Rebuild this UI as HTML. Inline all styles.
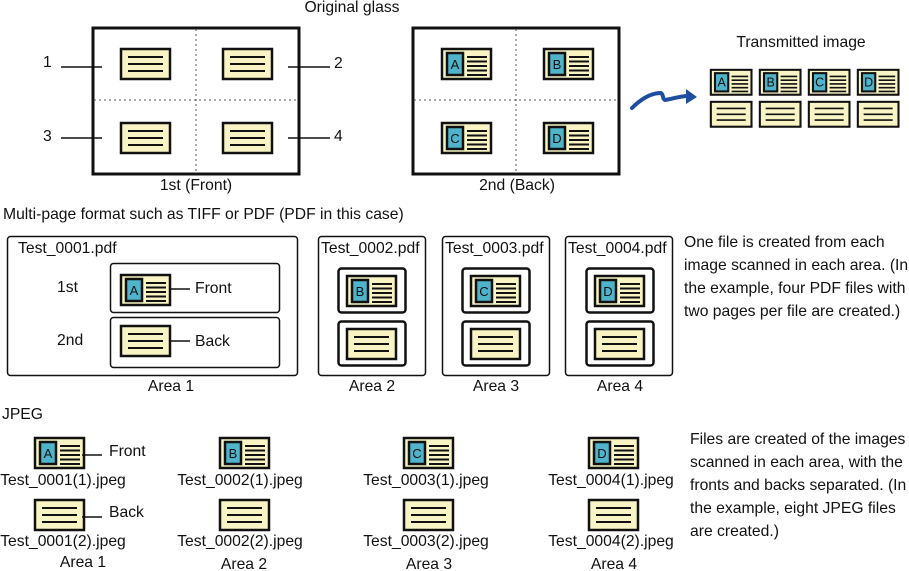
<!DOCTYPE html>
<html><head><meta charset="utf-8"><style>
html,body{margin:0;padding:0;background:#fff}
svg{display:block}
text{font-family:"Liberation Sans",sans-serif;font-size:15.7px;fill:#111}
text.l{font-size:13px}
</style></head><body>
<svg width="909" height="571" viewBox="0 0 909 571" xmlns="http://www.w3.org/2000/svg">
<defs>
<g id="fc">
<rect x="1" y="1" width="49" height="30" fill="#f8f4c4" stroke="#111" stroke-width="2.5"/>
<rect x="6" y="5" width="16" height="22" fill="#4fb3c9" stroke="#111" stroke-width="2.5"/>
<path d="M26 9H46M26 13.5H46M26 18H46M26 22.5H46M26 27H46" stroke="#111" stroke-width="2"/>
</g>
<g id="bc">
<rect x="1" y="1" width="49" height="30" fill="#f8f4c4" stroke="#111" stroke-width="2.5"/>
<path d="M8 9H43M8 16H43M8 23H43" stroke="#111" stroke-width="2"/>
</g>
</defs>

<!-- top -->
<text x="352" y="12" text-anchor="middle">Original glass</text>
<rect x="93" y="28" width="206" height="146" fill="none" stroke="#111" stroke-width="3"/>
<path d="M196 29V173M94 100H298" stroke="#555" stroke-width="1" stroke-dasharray="2,3"/>
<use href="#bc" x="120" y="48"/><use href="#bc" x="222" y="48"/>
<use href="#bc" x="120" y="122"/><use href="#bc" x="222" y="122"/>
<path d="M61 67H102M288 67H330M61 138H102M288 138H330" stroke="#111" stroke-width="1.5"/>
<text x="43" y="67">1</text><text x="334" y="68">2</text>
<text x="43" y="141">3</text><text x="334" y="141">4</text>
<text x="196" y="190" text-anchor="middle">1st (Front)</text>

<rect x="413" y="28" width="206" height="146" fill="none" stroke="#111" stroke-width="3"/>
<path d="M516 29V173M414 100H618" stroke="#555" stroke-width="1" stroke-dasharray="2,3"/>
<use href="#fc" x="441" y="48"/><text class="l" x="455" y="69" text-anchor="middle">A</text>
<use href="#fc" x="543" y="48"/><text class="l" x="557" y="69" text-anchor="middle">B</text>
<use href="#fc" x="441" y="122"/><text class="l" x="455" y="143" text-anchor="middle">C</text>
<use href="#fc" x="543" y="122"/><text class="l" x="557" y="143" text-anchor="middle">D</text>
<text x="517" y="190" text-anchor="middle">2nd (Back)</text>

<path d="M632 108C642 98 652 93 661 93C664 95 662 99 665 100C672 99 680 96 688 96" fill="none" stroke="#1f4ea0" stroke-width="4" stroke-linecap="round"/>
<path d="M686 89L697 97L686 104Z" fill="#1f4ea0"/>

<text x="801" y="47" text-anchor="middle">Transmitted image</text>
<g transform="translate(710,69) scale(0.83)"><use href="#fc"/><text x="14" y="21" text-anchor="middle" style="font-size:15px">A</text></g>
<g transform="translate(759,69) scale(0.83)"><use href="#fc"/><text x="14" y="21" text-anchor="middle" style="font-size:15px">B</text></g>
<g transform="translate(808,69) scale(0.83)"><use href="#fc"/><text x="14" y="21" text-anchor="middle" style="font-size:15px">C</text></g>
<g transform="translate(857,69) scale(0.83)"><use href="#fc"/><text x="14" y="21" text-anchor="middle" style="font-size:15px">D</text></g>
<g transform="translate(710,101) scale(0.83)"><use href="#bc"/></g>
<g transform="translate(759,101) scale(0.83)"><use href="#bc"/></g>
<g transform="translate(808,101) scale(0.83)"><use href="#bc"/></g>
<g transform="translate(857,101) scale(0.83)"><use href="#bc"/></g>

<!-- middle -->
<text x="3" y="219">Multi-page format such as TIFF or PDF (PDF in this case)</text>
<rect x="7.5" y="236.5" width="290" height="139" rx="3" fill="none" stroke="#111" stroke-width="1.5"/>
<text x="18" y="253">Test_0001.pdf</text>
<rect x="110.5" y="263.5" width="169" height="49" rx="3" fill="none" stroke="#111" stroke-width="1.5"/>
<rect x="110.5" y="317.5" width="169" height="50" rx="3" fill="none" stroke="#111" stroke-width="1.5"/>
<use href="#fc" x="120" y="274"/><text class="l" x="134" y="295" text-anchor="middle">A</text>
<use href="#bc" x="120" y="325"/>
<path d="M169 289H190M169 341H190" stroke="#111" stroke-width="1.5"/>
<text x="195" y="293">Front</text><text x="195" y="346">Back</text>
<text x="57" y="292">1st</text><text x="57" y="345">2nd</text>
<text x="171" y="391" text-anchor="middle">Area 1</text>

<rect x="318.5" y="236.5" width="107" height="139" rx="3" fill="none" stroke="#111" stroke-width="1.5"/>
<text x="321" y="253">Test_0002.pdf</text>
<rect x="338.5" y="268.5" width="67" height="44" rx="3" fill="none" stroke="#111" stroke-width="2.5"/>
<rect x="338.5" y="321.5" width="67" height="44" rx="3" fill="none" stroke="#111" stroke-width="2.5"/>
<use href="#fc" x="346" y="275"/><text class="l" x="360" y="296" text-anchor="middle">B</text>
<use href="#bc" x="346" y="328"/>
<text x="372" y="391" text-anchor="middle">Area 2</text>

<rect x="442.5" y="236.5" width="107" height="139" rx="3" fill="none" stroke="#111" stroke-width="1.5"/>
<text x="445" y="253">Test_0003.pdf</text>
<rect x="462.5" y="268.5" width="67" height="44" rx="3" fill="none" stroke="#111" stroke-width="2.5"/>
<rect x="462.5" y="321.5" width="67" height="44" rx="3" fill="none" stroke="#111" stroke-width="2.5"/>
<use href="#fc" x="470" y="275"/><text class="l" x="484" y="296" text-anchor="middle">C</text>
<use href="#bc" x="470" y="328"/>
<text x="496" y="391" text-anchor="middle">Area 3</text>

<rect x="565.5" y="236.5" width="107" height="139" rx="3" fill="none" stroke="#111" stroke-width="1.5"/>
<text x="568" y="253">Test_0004.pdf</text>
<rect x="586.5" y="268.5" width="67" height="44" rx="3" fill="none" stroke="#111" stroke-width="2.5"/>
<rect x="586.5" y="321.5" width="67" height="44" rx="3" fill="none" stroke="#111" stroke-width="2.5"/>
<use href="#fc" x="594" y="275"/><text class="l" x="608" y="296" text-anchor="middle">D</text>
<use href="#bc" x="594" y="328"/>
<text x="620" y="391" text-anchor="middle">Area 4</text>

<text x="684" y="247">One file is created from each</text>
<text x="684" y="270">image scanned in each area. (In</text>
<text x="684" y="293">the example, four PDF files with</text>
<text x="684" y="316">two pages per file are created.)</text>

<!-- jpeg -->
<text x="2" y="419">JPEG</text>
<use href="#fc" x="34" y="437"/><text class="l" x="48" y="458" text-anchor="middle">A</text>
<use href="#bc" x="34" y="499"/>
<path d="M82 455H102M82 517H102" stroke="#111" stroke-width="1.5"/>
<text x="109" y="456">Front</text><text x="109" y="517">Back</text>
<text x="63" y="485" text-anchor="middle">Test_0001(1).jpeg</text>
<text x="63" y="546" text-anchor="middle">Test_0001(2).jpeg</text>
<text x="83" y="567" text-anchor="middle">Area 1</text>

<use href="#fc" x="219" y="437"/><text class="l" x="233" y="458" text-anchor="middle">B</text>
<use href="#bc" x="219" y="499"/>
<text x="240" y="485" text-anchor="middle">Test_0002(1).jpeg</text>
<text x="240" y="546" text-anchor="middle">Test_0002(2).jpeg</text>
<text x="244" y="569" text-anchor="middle">Area 2</text>

<use href="#fc" x="403" y="437"/><text class="l" x="417" y="458" text-anchor="middle">C</text>
<use href="#bc" x="403" y="499"/>
<text x="426" y="485" text-anchor="middle">Test_0003(1).jpeg</text>
<text x="426" y="546" text-anchor="middle">Test_0003(2).jpeg</text>
<text x="429" y="569" text-anchor="middle">Area 3</text>

<use href="#fc" x="588" y="437"/><text class="l" x="602" y="458" text-anchor="middle">D</text>
<use href="#bc" x="588" y="499"/>
<text x="611" y="485" text-anchor="middle">Test_0004(1).jpeg</text>
<text x="611" y="546" text-anchor="middle">Test_0004(2).jpeg</text>
<text x="614" y="569" text-anchor="middle">Area 4</text>

<text x="690" y="444">Files are created of the images</text>
<text x="690" y="467">scanned in each area, with the</text>
<text x="690" y="490">fronts and backs separated. (In</text>
<text x="690" y="513">the example, eight JPEG files</text>
<text x="690" y="536">are created.)</text>
</svg>
</body></html>
